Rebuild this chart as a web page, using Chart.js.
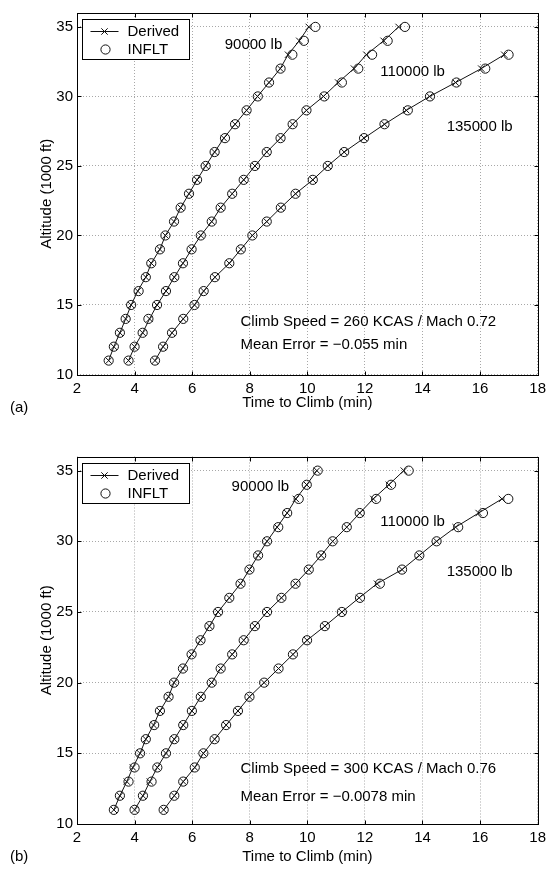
<!DOCTYPE html>
<html>
<head>
<meta charset="utf-8">
<script src="https://cdn.jsdelivr.net/npm/chart.js@4.4.1/dist/chart.umd.min.js"></script>
<style>
  body { margin: 0; background: #fff; }
  canvas { position: absolute; left: 0; }
</style>
</head>
<body>
<canvas id="chartA" width="551" height="434" style="top:0px"></canvas>
<canvas id="chartB" width="551" height="435" style="top:434px"></canvas>
<script>
// altitude (1000 ft) of each sample point
const altitudes = [11, 12, 13, 14, 15, 16, 17, 18, 19, 20, 21, 22, 23, 24, 25, 26, 27, 28, 29, 30, 31, 32, 33, 34, 35];
const altitudes135 = [11, 12, 13, 14, 15, 16, 17, 18, 19, 20, 21, 22, 23, 24, 25, 26, 27, 28, 29, 30, 31, 32, 33];

const xTicks = [2, 4, 6, 8, 10, 12, 14, 16, 18];
const yTicks = [10, 15, 20, 25, 30, 35];

// (a) 260 KCAS / Mach 0.72 - time to climb (min)
const derived90A = [3.10, 3.28, 3.49, 3.69, 3.88, 4.11, 4.39, 4.58, 4.88, 5.07, 5.37, 5.60, 5.89, 6.17, 6.47, 6.78, 7.10, 7.49, 7.89, 8.27, 8.67, 9.06, 9.33, 9.72, 10.05];
const inflt90A = [3.10, 3.28, 3.49, 3.69, 3.88, 4.14, 4.39, 4.58, 4.88, 5.07, 5.37, 5.60, 5.89, 6.17, 6.47, 6.78, 7.14, 7.49, 7.89, 8.28, 8.67, 9.07, 9.48, 9.88, 10.28];
const derived110A = [3.79, 4.00, 4.28, 4.52, 4.78, 5.09, 5.38, 5.68, 5.98, 6.30, 6.68, 6.99, 7.39, 7.79, 8.18, 8.59, 9.07, 9.49, 9.97, 10.56, 11.07, 11.62, 12.05, 12.65, 13.17];
const inflt110A = [3.79, 4.00, 4.28, 4.48, 4.78, 5.09, 5.38, 5.68, 5.98, 6.30, 6.68, 6.99, 7.39, 7.79, 8.18, 8.59, 9.07, 9.49, 9.97, 10.59, 11.20, 11.77, 12.25, 12.79, 13.39];
const derived135A = [4.71, 4.99, 5.30, 5.69, 6.08, 6.40, 6.79, 7.29, 7.69, 8.09, 8.59, 9.08, 9.59, 10.19, 10.71, 11.28, 11.97, 12.68, 13.44, 14.25, 15.15, 16.04, 16.84];
const inflt135A = [4.71, 4.99, 5.30, 5.69, 6.08, 6.40, 6.79, 7.29, 7.69, 8.09, 8.59, 9.08, 9.59, 10.19, 10.71, 11.28, 11.97, 12.68, 13.49, 14.26, 15.18, 16.18, 16.99];

// (b) 300 KCAS / Mach 0.76
const derived90B = [3.28, 3.49, 3.73, 3.94, 4.19, 4.39, 4.66, 4.88, 5.18, 5.37, 5.68, 5.98, 6.29, 6.60, 6.90, 7.29, 7.68, 7.99, 8.29, 8.60, 8.95, 9.30, 9.60, 9.98, 10.33];
const inflt90B = [3.28, 3.49, 3.79, 4.00, 4.19, 4.39, 4.68, 4.88, 5.18, 5.37, 5.68, 5.98, 6.29, 6.60, 6.90, 7.29, 7.68, 7.99, 8.29, 8.60, 8.99, 9.30, 9.70, 9.98, 10.36];
const derived110B = [4.00, 4.29, 4.53, 4.79, 5.09, 5.38, 5.69, 5.99, 6.30, 6.68, 6.99, 7.39, 7.79, 8.18, 8.60, 9.10, 9.59, 10.05, 10.48, 10.88, 11.37, 11.82, 12.29, 12.83, 13.35];
const inflt110B = [4.00, 4.29, 4.59, 4.79, 5.09, 5.38, 5.69, 5.99, 6.30, 6.68, 6.99, 7.39, 7.79, 8.18, 8.60, 9.10, 9.59, 10.05, 10.48, 10.88, 11.37, 11.82, 12.39, 12.91, 13.52];
const derived135B = [5.01, 5.38, 5.69, 6.09, 6.39, 6.78, 7.18, 7.59, 7.99, 8.50, 9.00, 9.50, 9.99, 10.61, 11.20, 11.80, 12.42, 13.29, 13.89, 14.49, 15.15, 15.95, 16.76];
const inflt135B = [5.01, 5.38, 5.69, 6.09, 6.39, 6.78, 7.18, 7.59, 7.99, 8.50, 9.00, 9.50, 9.99, 10.61, 11.20, 11.83, 12.52, 13.29, 13.89, 14.49, 15.24, 16.10, 16.98];

const FONT = '"Liberation Sans", Arial, Helvetica, sans-serif';

function toPoints(times, alts) {
    return times.map((t, i) => ({ x: t, y: alts[i] }));
}

function derivedSet(times, alts) {
    return {
        data: toPoints(times, alts),
        showLine: true,
        borderColor: '#111',
        borderWidth: 1,
        tension: 0,
        pointStyle: 'crossRot',
        pointRadius: 4.5,
        pointBorderColor: '#111',
        pointBorderWidth: 1,
    };
}

function infltSet(times, alts) {
    return {
        data: toPoints(times, alts),
        showLine: false,
        pointStyle: 'circle',
        pointRadius: 4.6,
        pointBorderColor: '#111',
        pointBackgroundColor: 'rgba(0,0,0,0)',
        pointBorderWidth: 1,
    };
}

// frame, inward ticks, legend box, notes and axis titles
const panelDecor = {
    id: 'panelDecor',
    afterDraw(chart, args, opts) {
        const ctx = chart.ctx;
        const area = chart.chartArea;
        const xs = chart.scales.x;
        const ys = chart.scales.y;
        const L = Math.round(area.left) + 0.5, R = Math.round(area.right) + 0.5;
        const T = Math.round(area.top) + 0.5, B = Math.round(area.bottom) + 0.5;

        ctx.save();
        ctx.strokeStyle = '#000';
        ctx.lineWidth = 1;
        ctx.beginPath();
        xTicks.forEach(v => {
            const px = Math.round(xs.getPixelForValue(v)) + 0.5;
            ctx.moveTo(px, B); ctx.lineTo(px, B - 4);
            ctx.moveTo(px, T); ctx.lineTo(px, T + 4);
        });
        yTicks.forEach(v => {
            const py = Math.round(ys.getPixelForValue(v)) + 0.5;
            ctx.moveTo(L, py); ctx.lineTo(L + 4, py);
            ctx.moveTo(R, py); ctx.lineTo(R - 4, py);
        });
        ctx.stroke();
        ctx.strokeRect(L, T, R - L, B - T);

        // legend
        const lx = L + 5, ly = T + 6;
        ctx.fillStyle = '#fff';
        ctx.fillRect(lx, ly, 107, 40);
        ctx.strokeStyle = '#000';
        ctx.strokeRect(lx, ly, 107, 40);
        ctx.strokeStyle = '#111';
        ctx.beginPath();
        ctx.moveTo(lx + 8, ly + 12); ctx.lineTo(lx + 36, ly + 12);
        const cx = lx + 22, cy = ly + 12, d = 3.2;
        ctx.moveTo(cx - d, cy - d); ctx.lineTo(cx + d, cy + d);
        ctx.moveTo(cx - d, cy + d); ctx.lineTo(cx + d, cy - d);
        ctx.stroke();
        ctx.beginPath();
        ctx.arc(lx + 23, ly + 30, 4.6, 0, Math.PI * 2);
        ctx.stroke();

        ctx.fillStyle = '#000';
        ctx.font = '15px ' + FONT;
        ctx.textAlign = 'left';
        ctx.textBaseline = 'middle';
        ctx.fillText('Derived', lx + 45, ly + 12);
        ctx.fillText('INFLT', lx + 45, ly + 30);

        opts.notes.forEach(n => {
            ctx.fillText(n.text, xs.getPixelForValue(n.x), ys.getPixelForValue(n.y));
        });

        // axis titles and panel tag
        ctx.textAlign = 'center';
        ctx.fillText('Time to Climb (min)', (area.left + area.right) / 2, area.bottom + opts.xTitleGap);
        ctx.save();
        ctx.translate(47, (area.top + area.bottom) / 2);
        ctx.rotate(-Math.PI / 2);
        ctx.fillText('Altitude (1000 ft)', 0, 0);
        ctx.restore();
        ctx.textAlign = 'left';
        ctx.fillText(opts.tag, 10, opts.tagY);
        ctx.restore();
    }
};

function makePanel(canvasId, sets, cfg) {
    const ctx = document.getElementById(canvasId).getContext('2d');
    return new Chart(ctx, {
        type: 'scatter',
        data: {
            datasets: [
                derivedSet(sets[0], altitudes), infltSet(sets[1], altitudes),
                derivedSet(sets[2], altitudes), infltSet(sets[3], altitudes),
                derivedSet(sets[4], altitudes135), infltSet(sets[5], altitudes135),
            ],
        },
        options: {
            responsive: false,
            animation: false,
            events: [],
            layout: {
                padding: { top: cfg.padTop, right: 9, left: 0, bottom: 0 },
            },
            scales: {
                x: {
                    type: 'linear',
                    min: 2,
                    max: 18,
                    afterBuildTicks: s => { s.ticks = xTicks.map(v => ({ value: v })); },
                    afterFit: s => { s.height = cfg.xAxisHeight; },
                    ticks: {
                        color: '#000',
                        font: { family: FONT, size: 15 },
                        padding: 5,
                        maxRotation: 0,
                        autoSkip: false,
                    },
                    grid: { color: '#a8a8a8', lineWidth: 1, drawTicks: false },
                    border: { display: false, dash: [1, 2] },
                },
                y: {
                    type: 'linear',
                    min: 10,
                    max: 36,
                    afterBuildTicks: s => { s.ticks = yTicks.map(v => ({ value: v })); },
                    afterFit: s => { s.width = 77; },
                    ticks: {
                        color: '#000',
                        font: { family: FONT, size: 15 },
                        padding: 4,
                        autoSkip: false,
                    },
                    grid: { color: '#a8a8a8', lineWidth: 1, drawTicks: false },
                    border: { display: false, dash: [1, 2] },
                },
            },
            plugins: {
                legend: { display: false },
                tooltip: { enabled: false },
                panelDecor: cfg.decor,
            },
        },
        plugins: [panelDecor],
    });
}

makePanel('chartA',
    [derived90A, inflt90A, derived110A, inflt110A, derived135A, inflt135A],
    {
        padTop: 7,
        xAxisHeight: 59.5,
        decor: {
            tag: '(a)',
            tagY: 407.5,
            xTitleGap: 28.5,
            notes: [
                { text: '90000 lb', x: 7.13, y: 33.74 },
                { text: '110000 lb', x: 12.53, y: 31.76 },
                { text: '135000 lb', x: 14.84, y: 27.80 },
                { text: 'Climb Speed = 260 KCAS / Mach 0.72', x: 7.68, y: 13.79 },
                { text: 'Mean Error = \u22120.055 min', x: 7.68, y: 12.16 },
            ],
        },
    });

makePanel('chartB',
    [derived90B, inflt90B, derived110B, inflt110B, derived135B, inflt135B],
    {
        padTop: 22.5,
        xAxisHeight: 45,
        decor: {
            tag: '(b)',
            tagY: 423,
            xTitleGap: 33,
            notes: [
                { text: '90000 lb', x: 7.37, y: 33.85 },
                { text: '110000 lb', x: 12.53, y: 31.37 },
                { text: '135000 lb', x: 14.84, y: 27.83 },
                { text: 'Climb Speed = 300 KCAS / Mach 0.76', x: 7.68, y: 13.89 },
                { text: 'Mean Error = \u22120.0078 min', x: 7.68, y: 11.91 },
            ],
        },
    });
</script>
</body>
</html>
